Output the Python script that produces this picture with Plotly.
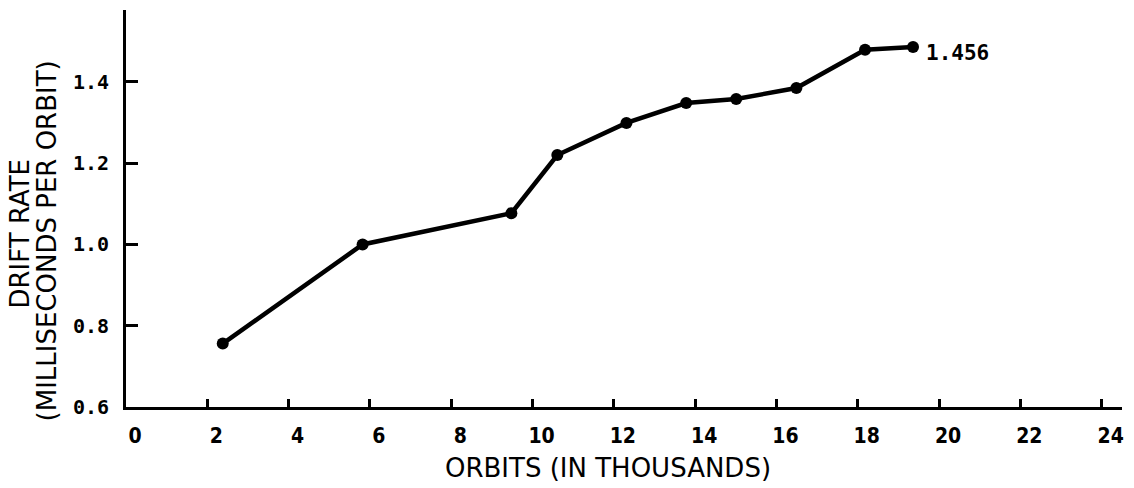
import plotly.graph_objects as go

orbits_thousands = [2.38, 5.82, 9.48, 10.61, 12.31, 13.78, 15.01, 16.49, 18.18, 19.36]
drift_rate = [0.756, 1.000, 1.077, 1.220, 1.299, 1.348, 1.358, 1.385, 1.479, 1.486]
x_ticks = [0, 2, 4, 6, 8, 10, 12, 14, 16, 18, 20, 22, 24]
y_ticks = [0.6, 0.8, 1.0, 1.2, 1.4]
y_tick_labels = ["0.6", "0.8", "1.0", "1.2", "1.4"]
end_label = "1.456"
y_title_1 = "DRIFT RATE"
y_title_2 = "(MILLISECONDS PER ORBIT)"
x_title = "ORBITS (IN THOUSANDS)"

mono = "DejaVu Sans Mono, Liberation Mono, monospace"
sans = "DejaVu Sans, sans-serif"

fig = go.Figure()
fig.add_trace(go.Scatter(
    x=orbits_thousands, y=drift_rate, mode="lines+markers",
    line=dict(color="black", width=4.5),
    marker=dict(color="black", size=12),
    showlegend=False, cliponaxis=False,
))
fig.add_annotation(
    x=orbits_thousands[-1], y=drift_rate[-1], text=end_label, showarrow=False,
    xanchor="left", yanchor="middle", xshift=11, yshift=-6,
    font=dict(family=mono, size=21, color="black", weight="bold"),
)
# axis titles
fig.add_annotation(xref="paper", yref="paper", x=0, y=0.437, xshift=-106,
                   text=y_title_1, textangle=-90, showarrow=False,
                   xanchor="center", yanchor="middle",
                   font=dict(family=sans, size=26, color="black"))
fig.add_annotation(xref="paper", yref="paper", x=0, y=0.417, xshift=-79,
                   text=y_title_2, textangle=-90, showarrow=False,
                   xanchor="center", yanchor="middle",
                   font=dict(family=sans, size=26, color="black"))
fig.add_annotation(xref="paper", yref="paper", x=0.484, y=0, yshift=-61,
                   text=x_title, showarrow=False,
                   xanchor="center", yanchor="middle",
                   font=dict(family=sans, size=26, color="black"))

fig.update_layout(
    width=1134, height=488,
    margin=dict(l=126, r=12, t=10, b=81),
    paper_bgcolor="white", plot_bgcolor="white",
    xaxis=dict(
        range=[0, 24.5], tickvals=x_ticks, ticktext=[str(v) for v in x_ticks],
        ticks="inside", ticklen=8, tickwidth=3, tickcolor="black",
        showline=True, linecolor="black", linewidth=3, showgrid=False, zeroline=False,
        ticklabelshift=9, ticklabelstandoff=8,
        tickfont=dict(family="Liberation Sans Narrow, DejaVu Sans Condensed, sans-serif", size=21, color="black", weight="bold"),
    ),
    yaxis=dict(
        range=[0.6, 1.577], tickvals=y_ticks, ticktext=y_tick_labels,
        ticks="inside", ticklen=12, tickwidth=3, tickcolor="black",
        showline=True, linecolor="black", linewidth=3, showgrid=False, zeroline=False,
        ticklabelstandoff=10,
        tickfont=dict(family=mono, size=20, color="black", weight="bold"),
    ),
)

fig.write_html("out.html")
